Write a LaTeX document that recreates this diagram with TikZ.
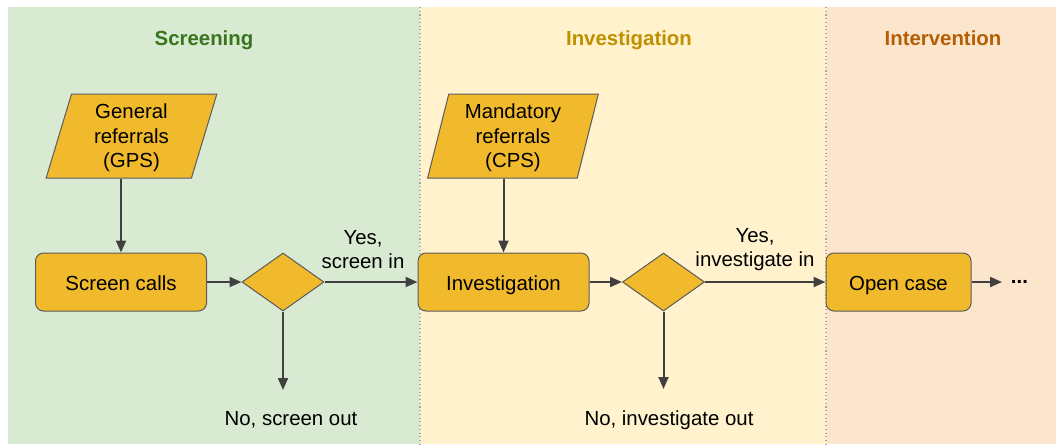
\documentclass[tikz,border=0pt]{standalone}
\usepackage{fontspec}
\setmainfont{Liberation Sans}
\usepackage{tikz}
\usetikzlibrary{positioning, arrows.meta, calc, shapes.geometric}
\usepackage{xcolor}

\definecolor{screenbg}{HTML}{D9EAD3}
\definecolor{investbg}{HTML}{FFF2CC}
\definecolor{intervbg}{HTML}{FCE5CD}
\definecolor{screenfg}{HTML}{38761D}
\definecolor{investfg}{HTML}{BF9000}
\definecolor{intervfg}{HTML}{B45F06}
\definecolor{shapefill}{HTML}{F0BA2C}
\definecolor{shapeline}{HTML}{5B5B5B}
\definecolor{arrowcol}{HTML}{404040}

\tikzset{
	txt/.style={font=\fontsize{15.3}{18.3}\selectfont, align=center, inner sep=0pt},
	title/.style={txt, font=\fontsize{15.3}{18.3}\selectfont\bfseries, anchor=base},
	box/.style={txt, draw=shapeline, fill=shapefill, line width=0.75pt, rounded corners=6pt,
		minimum width=128.25pt, minimum height=43.5pt, text height=13pt, text depth=0pt},
	decision/.style={diamond, draw=shapeline, fill=shapefill, line width=0.75pt, inner sep=0pt,
		minimum width=61.5pt, minimum height=43.5pt},
	input/.style={txt, trapezium, trapezium left angle=76, trapezium right angle=104, trapezium stretches=true,
		draw=shapeline, fill=shapefill, line width=0.75pt, minimum width=128.25pt, minimum height=63pt,
		text depth=-5pt},
	flow/.style={-{Triangle[length=9pt, width=7.5pt]}, draw=arrowcol, line width=1.5pt},
	lane/.style={draw=gray!70, dotted, line width=0.8pt}
}

\begin{document}
\begin{tikzpicture}[x=0.75pt, y=-0.75pt]
					% lanes
					\useasboundingbox (0, 0) rectangle (1056, 444);
					\fill[white] (0, 0) rectangle (1056, 444);
					\fill[screenbg] (8, 7) rectangle (420, 444);
					\fill[investbg] (420, 7) rectangle (826, 444);
					\fill[intervbg] (826, 7) rectangle (1056, 444);
					\draw[lane] (420, 7) -- (420, 444);
					\draw[lane] (826, 7) -- (826, 444);

					\node[title, text=screenfg] at (204, 45) (screening) {Screening};
					\node[title, text=investfg] at (629, 45) (investigation) {Investigation};
					\node[title, text=intervfg] at (943, 45) (intervention) {Intervention};

					% screening
					\node[input] at (131.5, 136) (gps) {General\\referrals\\(GPS)};
					\node[box] at (121, 282) (calls) {Screen calls};
					\node[decision] at (283, 282) (d1) {};
					\coordinate (out1) at (283, 390);
					\node[txt] at (363, 249.5) (yes1) {Yes,\\screen in};
					\node[txt] at (291, 420) (no1) {No, screen out};

					% investigation
					\node[input] at (513, 136) (cps) {Mandatory\\referrals\\(CPS)};
					\node[box] at (503.5, 282) (inv) {Investigation};
					\node[decision] at (663.5, 282) (d2) {};
					\coordinate (out2) at (663.5, 389);
					\node[txt] at (755, 249.5) (yes2) {Yes,\\investigate in};
					\node[txt] at (669, 420) (no2) {No, investigate out};

					% intervention
					\node[box, minimum width=108.75pt] at (898.5, 282) (open) {Open case};
					\node[txt, anchor=base west, inner xsep=6.5pt] at (1002, 283) (more) {\textbf{...}};

					\draw[flow] (calls |- gps.south) -- (calls);
					\draw[flow] (inv |- cps.south) -- (inv);
					\draw[flow] (calls) -- (d1);
					\draw[flow] (d1) -- (inv);
					\draw[flow] (d1) -- (out1);
					\draw[flow] (inv) -- (d2);
					\draw[flow] (d2) -- (open);
					\draw[flow] (d2) -- (out2);
					\draw[flow] (open) -- (open -| more.west);
				\end{tikzpicture}
\end{document}
